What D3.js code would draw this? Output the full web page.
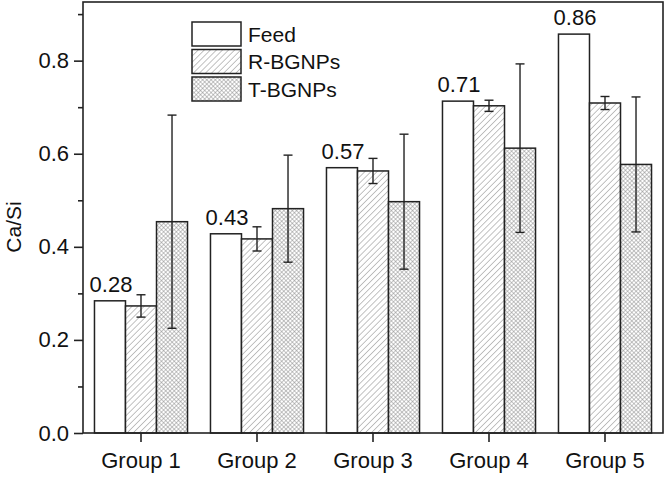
<!DOCTYPE html>
<html>
<head>
<meta charset="utf-8">
<script src="https://cdn.jsdelivr.net/npm/d3@7"></script>
<style>
  body { margin: 0; background: #fff; }
  svg { display: block; font-family: "Liberation Sans", Arial, sans-serif; }
</style>
</head>
<body>
<svg id="chart" width="666" height="477"></svg>
<script>
// data
var groups = ['Group 1', 'Group 2', 'Group 3', 'Group 4', 'Group 5'];
var seriesNames = ['Feed', 'R-BGNPs', 'T-BGNPs'];
var feed = [0.284, 0.428, 0.570, 0.713, 0.857];
var rbgnps = [0.273, 0.417, 0.563, 0.703, 0.709];
var rbgnpsErr = [0.024, 0.026, 0.027, 0.012, 0.014];
var tbgnps = [0.454, 0.482, 0.497, 0.612, 0.577];
var tbgnpsErr = [0.229, 0.115, 0.145, 0.181, 0.145];
var feedLabels = ['0.28', '0.43', '0.57', '0.71', '0.86'];
var yTicks = [0, 0.2, 0.4, 0.6, 0.8];

var chart = {
  margin: { top: 2, right: 3, bottom: 44, left: 83 },

  init: function() {
    var self = this;
    self.svg = d3.select('#chart');
    self.width = 666 - self.margin.left - self.margin.right;
    self.height = 477 - self.margin.top - self.margin.bottom;

    self.x = d3.scaleBand().domain(groups).range([0, self.width]);
    self.xs = d3.scaleBand().domain(seriesNames)
        .range([0, self.x.bandwidth()]).paddingOuter(0.37);
    self.y = d3.scaleLinear().domain([0, 0.926]).range([self.height, 0]);

    self.g = self.svg.append('g')
        .attr('transform', 'translate(' + self.margin.left + ',' + self.margin.top + ')');

    self.makePatterns();
    self.drawBars();
    self.drawAxes();
    self.drawLegend();
  },

  makePatterns: function() {
    var defs = this.svg.append('defs');
    var hatch = defs.append('pattern')
        .attr('id', 'hatch')
        .attr('patternUnits', 'userSpaceOnUse')
        .attr('width', 4.3).attr('height', 4.3)
        .attr('patternTransform', 'rotate(45)');
    hatch.append('rect').attr('width', 4.3).attr('height', 4.3).attr('fill', '#fff');
    hatch.append('line').attr('x1', 0).attr('y1', 0).attr('x2', 0).attr('y2', 4.3)
        .attr('stroke', '#9a9a9a').attr('stroke-width', 1.2);

    var cross = defs.append('pattern')
        .attr('id', 'cross')
        .attr('patternUnits', 'userSpaceOnUse')
        .attr('width', 3).attr('height', 3)
        .attr('patternTransform', 'rotate(45)');
    cross.append('rect').attr('width', 3).attr('height', 3).attr('fill', '#fff');
    cross.append('line').attr('x1', 0).attr('y1', 0).attr('x2', 0).attr('y2', 3)
        .attr('stroke', '#808080').attr('stroke-width', 0.9);
    cross.append('line').attr('x1', 0).attr('y1', 0).attr('x2', 3).attr('y2', 0)
        .attr('stroke', '#808080').attr('stroke-width', 0.9);
  },

  drawBars: function() {
    var self = this;
    var rows = groups.map(function(gname, i) {
      return {
        group: gname,
        bars: [
          { key: 'Feed', value: feed[i], fill: '#fff' },
          { key: 'R-BGNPs', value: rbgnps[i], err: rbgnpsErr[i], fill: 'url(#hatch)' },
          { key: 'T-BGNPs', value: tbgnps[i], err: tbgnpsErr[i], fill: 'url(#cross)' }
        ],
        label: feedLabels[i]
      };
    });

    var grp = self.g.selectAll('.grp')
        .data(rows)
        .enter().append('g')
        .attr('class', 'grp')
        .attr('transform', function(d) { return 'translate(' + self.x(d.group) + ',0)'; });

    grp.selectAll('rect')
        .data(function(d) { return d.bars; })
        .enter().append('rect')
        .attr('x', function(d) { return self.xs(d.key); })
        .attr('y', function(d) { return self.y(d.value); })
        .attr('width', self.xs.bandwidth())
        .attr('height', function(d) { return self.height - self.y(d.value); })
        .attr('fill', function(d) { return d.fill; })
        .attr('stroke', '#222')
        .attr('stroke-width', 1.5);

    var errs = grp.selectAll('.err')
        .data(function(d) { return d.bars.filter(function(b) { return b.err; }); })
        .enter().append('g')
        .attr('class', 'err')
        .attr('stroke', '#222')
        .attr('stroke-width', 1.4);
    var cx = function(d) { return self.xs(d.key) + self.xs.bandwidth() / 2; };
    errs.append('line')
        .attr('x1', cx).attr('x2', cx)
        .attr('y1', function(d) { return self.y(d.value + d.err); })
        .attr('y2', function(d) { return self.y(d.value - d.err); });
    [1, -1].forEach(function(s) {
      errs.append('line')
          .attr('x1', function(d) { return cx(d) - 4.5; })
          .attr('x2', function(d) { return cx(d) + 4.5; })
          .attr('y1', function(d) { return self.y(d.value + s * d.err); })
          .attr('y2', function(d) { return self.y(d.value + s * d.err); });
    });

    grp.append('text')
        .attr('x', function(d) { return self.xs('Feed') + self.xs.bandwidth() / 2 + 1; })
        .attr('y', function(d) { return self.y(d.bars[0].value) - 9; })
        .attr('text-anchor', 'middle')
        .attr('font-size', 22)
        .attr('fill', '#111')
        .text(function(d) { return d.label; });
  },

  drawAxes: function() {
    var self = this;
    // frame
    self.g.append('rect')
        .attr('width', self.width).attr('height', self.height)
        .attr('fill', 'none').attr('stroke', '#222').attr('stroke-width', 1.6);

    var yAxis = self.g.append('g')
        .call(d3.axisLeft(self.y).tickValues(yTicks).tickFormat(d3.format('.1f'))
              .tickSize(9).tickPadding(5));
    var minor = self.g.append('g')
        .call(d3.axisLeft(self.y).tickValues([0.1, 0.3, 0.5, 0.7, 0.9])
              .tickSize(5).tickFormat(''));
    var xAxis = self.g.append('g')
        .attr('transform', 'translate(0,' + self.height + ')')
        .call(d3.axisBottom(self.x).tickSize(9).tickPadding(10));

    [yAxis, minor, xAxis].forEach(function(a) {
      a.select('.domain').remove();
      a.selectAll('line').attr('stroke', '#222').attr('stroke-width', 1.6);
      a.selectAll('text').attr('font-size', 22).attr('fill', '#111')
          .style('font-family', '"Liberation Sans", Arial, sans-serif');
    });

    self.svg.append('text')
        .attr('transform', 'translate(21,' + 227 + ') rotate(-90)')
        .attr('text-anchor', 'middle')
        .attr('font-size', 21)
        .attr('fill', '#111')
        .text('Ca/Si');
  },

  drawLegend: function() {
    var fills = ['#fff', 'url(#hatch)', 'url(#cross)'];
    var leg = this.svg.append('g').attr('transform', 'translate(192,22)');
    var items = leg.selectAll('g')
        .data(seriesNames)
        .enter().append('g')
        .attr('transform', function(d, i) { return 'translate(0,' + i * 27.5 + ')'; });
    items.append('rect')
        .attr('width', 49).attr('height', 24)
        .attr('fill', function(d, i) { return fills[i]; })
        .attr('stroke', '#222').attr('stroke-width', 1.5);
    items.append('text')
        .attr('x', 56).attr('y', 19.5)
        .attr('font-size', 21)
        .attr('fill', '#111')
        .text(function(d) { return d; });
  }
};

chart.init();
</script>
</body>
</html>
